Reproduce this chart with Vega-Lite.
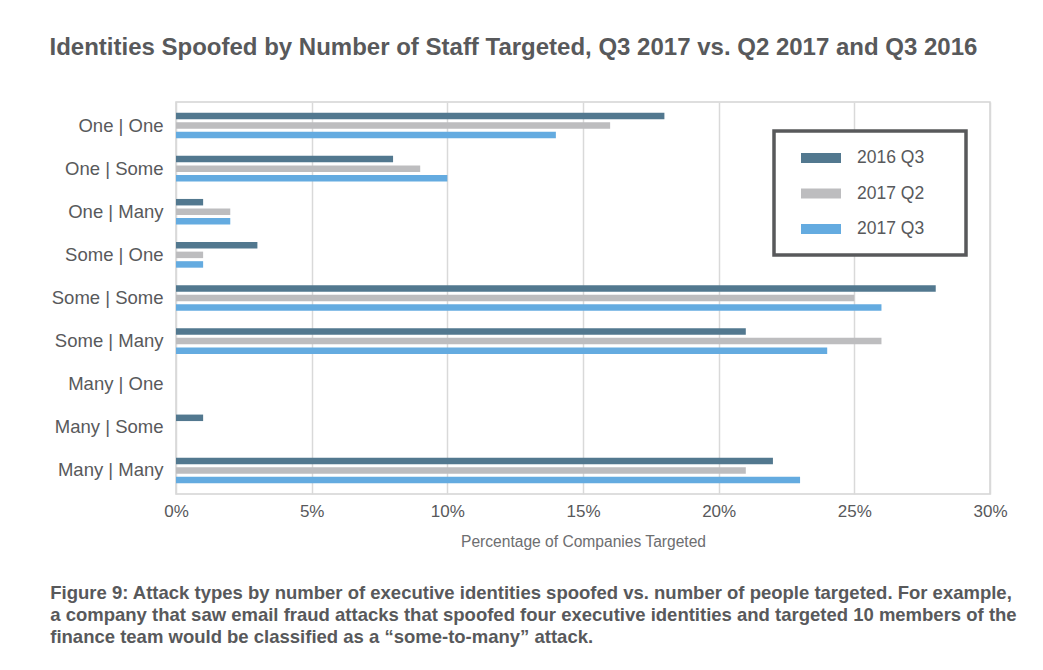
{
  "$schema": "https://vega.github.io/schema/vega-lite/v6.json",
  "background": "#ffffff",
  "padding": {"left": 49, "top": 36, "right": 0, "bottom": 0},
  "title": {
    "text": "Identities Spoofed by Number of Staff Targeted, Q3 2017 vs. Q2 2017 and Q3 2016",
    "anchor": "start",
    "frame": "bounds",
    "dx": 0,
    "offset": 41,
    "font": "Liberation Sans",
    "fontSize": 24,
    "fontWeight": "bold",
    "color": "#58595b"
  },
  "datasets": {
    "spoof": [
      {"cat": "One | One", "period": "2016 Q3", "value": 0.18},
      {"cat": "One | One", "period": "2017 Q2", "value": 0.16},
      {"cat": "One | One", "period": "2017 Q3", "value": 0.14},
      {"cat": "One | Some", "period": "2016 Q3", "value": 0.08},
      {"cat": "One | Some", "period": "2017 Q2", "value": 0.09},
      {"cat": "One | Some", "period": "2017 Q3", "value": 0.10},
      {"cat": "One | Many", "period": "2016 Q3", "value": 0.01},
      {"cat": "One | Many", "period": "2017 Q2", "value": 0.02},
      {"cat": "One | Many", "period": "2017 Q3", "value": 0.02},
      {"cat": "Some | One", "period": "2016 Q3", "value": 0.03},
      {"cat": "Some | One", "period": "2017 Q2", "value": 0.01},
      {"cat": "Some | One", "period": "2017 Q3", "value": 0.01},
      {"cat": "Some | Some", "period": "2016 Q3", "value": 0.28},
      {"cat": "Some | Some", "period": "2017 Q2", "value": 0.25},
      {"cat": "Some | Some", "period": "2017 Q3", "value": 0.26},
      {"cat": "Some | Many", "period": "2016 Q3", "value": 0.21},
      {"cat": "Some | Many", "period": "2017 Q2", "value": 0.26},
      {"cat": "Some | Many", "period": "2017 Q3", "value": 0.24},
      {"cat": "Many | One", "period": "2016 Q3", "value": 0},
      {"cat": "Many | One", "period": "2017 Q2", "value": 0},
      {"cat": "Many | One", "period": "2017 Q3", "value": 0},
      {"cat": "Many | Some", "period": "2016 Q3", "value": 0.01},
      {"cat": "Many | Some", "period": "2017 Q2", "value": 0},
      {"cat": "Many | Some", "period": "2017 Q3", "value": 0},
      {"cat": "Many | Many", "period": "2016 Q3", "value": 0.22},
      {"cat": "Many | Many", "period": "2017 Q2", "value": 0.21},
      {"cat": "Many | Many", "period": "2017 Q3", "value": 0.23}
    ]
  },
  "vconcat": [
    {
      "width": 814,
      "height": 392,
      "title": {
        "text": [
          "Figure 9: Attack types by number of executive identities spoofed vs. number of people targeted. For example,",
          "a company that saw email fraud attacks that spoofed four executive identities and targeted 10 members of the",
          "finance team would be classified as a “some-to-many” attack."
        ],
        "orient": "bottom",
        "anchor": "start",
        "frame": "bounds",
        "dx": -1,
        "offset": 34,
        "font": "Liberation Sans",
        "fontSize": 18.5,
        "lineHeight": 22,
        "fontWeight": "bold",
        "color": "#58595b"
      },
      "data": {"name": "spoof"},
      "mark": {"type": "bar"},
      "encoding": {
        "y": {
          "field": "cat",
          "type": "nominal",
          "sort": ["One | One", "One | Some", "One | Many", "Some | One", "Some | Some", "Some | Many", "Many | One", "Many | Some", "Many | Many"],
          "scale": {"paddingInner": 0.406, "paddingOuter": 0.248},
          "axis": {
            "title": null,
            "domain": false,
            "ticks": false,
            "grid": false,
            "labelPadding": 13,
            "labelFont": "Liberation Sans",
            "labelFontSize": 18.5,
            "labelColor": "#58595b"
          }
        },
        "yOffset": {
          "field": "period",
          "type": "nominal",
          "sort": ["2016 Q3", "2017 Q2", "2017 Q3"],
          "scale": {"paddingInner": 0.32, "paddingOuter": 0}
        },
        "x": {
          "field": "value",
          "type": "quantitative",
          "scale": {"domain": [0, 0.3], "nice": false},
          "axis": {
            "values": [0, 0.05, 0.1, 0.15, 0.2, 0.25, 0.3],
            "format": ".0%",
            "title": "Percentage of Companies Targeted",
            "domain": false,
            "ticks": false,
            "grid": true,
            "gridColor": "#d9d9d9",
            "gridWidth": 1.5,
            "labelFlush": false,
            "labelPadding": 9,
            "labelFont": "Liberation Sans",
            "labelFontSize": 17,
            "labelColor": "#58595b",
            "titleFont": "Liberation Sans",
            "titleFontSize": 15.6,
            "titleFontWeight": "normal",
            "titleColor": "#6d6e70",
            "titlePadding": 15
          }
        },
        "color": {
          "field": "period",
          "type": "nominal",
          "sort": ["2016 Q3", "2017 Q2", "2017 Q3"],
          "scale": {"domain": ["2016 Q3", "2017 Q2", "2017 Q3"], "range": ["#52788f", "#bdbdbf", "#64abe0"]},
          "legend": {
            "title": null,
            "orient": "none",
            "legendX": 598,
            "legendY": 29,
            "padding": 17,
            "fillColor": "#ffffff",
            "strokeColor": "#58595b",
            "symbolType": "M0,-0.5H4V0.5H0Z",
            "symbolSize": 400,
            "symbolStrokeWidth": 0,
            "symbolOpacity": 1,
            "labelFont": "Liberation Sans",
            "labelFontSize": 17.5,
            "labelColor": "#58595b",
            "labelOffset": 46,
            "rowPadding": 16.5,
            "labelExpr": "datum.label + '\\u00a0\\u00a0\\u00a0\\u00a0\\u00a0\\u200b'",
            "encode": {"legend": {"update": {"strokeWidth": {"value": 3.5}}}}
          }
        }
      }
    }
  ],
  "config": {
    "view": {"stroke": "#d4d4d4", "strokeWidth": 1.5},
    "concat": {"spacing": 0}
  }
}
